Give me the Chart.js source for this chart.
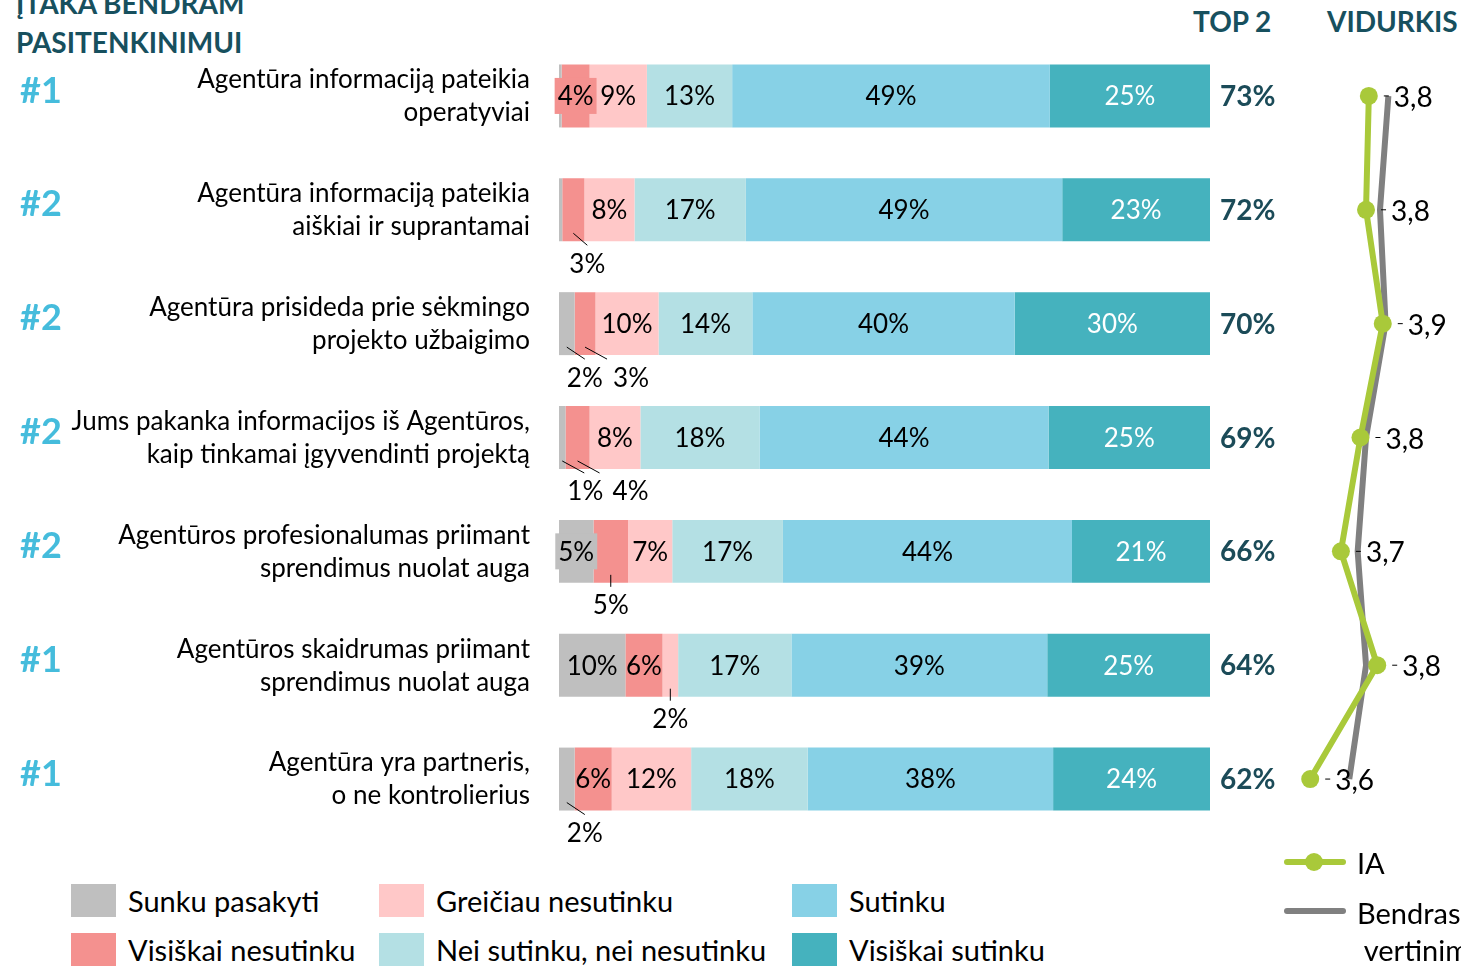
<!DOCTYPE html>
<html>
<head>
<meta charset="utf-8">
<script src="https://cdn.jsdelivr.net/npm/chart.js@4.4.1/dist/chart.umd.min.js"></script>
<style>
  body { margin: 0; width: 1461px; height: 966px; overflow: hidden; background: #fff; position: relative; font-family: Lato, sans-serif; }
  #title { position: absolute; left: 16px; top: -16px; font-weight: bold; font-size: 28px; line-height: 39px; color: #17505e; }
  .head { position: absolute; top: 4px; font-weight: bold; font-size: 28px; color: #17505e; }
  #bars { position: absolute; left: 0; top: 0; }
  #avg { position: absolute; left: 1280px; top: 0; }
  #legend { position: absolute; left: 71px; top: 884px; width: 1100px; }
  .item { position: absolute; height: 33px; display: flex; align-items: center; font-size: 29px; white-space: nowrap; }
  .item span.box { width: 45px; height: 33px; margin-right: 12px; }
  #legend2 { position: absolute; left: 1284px; top: 840px; font-size: 29px; white-space: nowrap; }
</style>
</head>
<body>
<div id="title">ĮTAKA BENDRAM<br>PASITENKINIMUI</div>
<div class="head" style="left:1193px">TOP 2</div>
<div class="head" style="left:1327px">VIDURKIS</div>
<canvas id="bars" width="1280" height="880"></canvas>
<canvas id="avg" width="181" height="880"></canvas>
<div id="legend"></div>
<div id="legend2"></div>
<script>
const categories = [
    ['Agentūra informaciją pateikia', 'operatyviai'],
    ['Agentūra informaciją pateikia', 'aiškiai ir suprantamai'],
    ['Agentūra prisideda prie sėkmingo', 'projekto užbaigimo'],
    ['Jums pakanka informacijos iš Agentūros,', 'kaip tinkamai įgyvendinti projektą'],
    ['Agentūros profesionalumas priimant', 'sprendimus nuolat auga'],
    ['Agentūros skaidrumas priimant', 'sprendimus nuolat auga'],
    ['Agentūra yra partneris,', 'o ne kontrolierius']
];
const ranks = ['#1', '#2', '#2', '#2', '#2', '#1', '#1'];
const seriesNames = ['Sunku pasakyti', 'Visiškai nesutinku', 'Greičiau nesutinku', 'Nei sutinku, nei nesutinku', 'Sutinku', 'Visiškai sutinku'];
const hardToSay      = [0.4, 0.5, 2.4, 1.0, 5.3, 10.2, 2.4];
const fullyDisagree  = [4.3, 3.4, 3.2, 3.7, 5.3, 5.7, 5.7];
const ratherDisagree = [8.8, 7.7, 9.7, 7.8, 6.8, 2.4, 12.2];
const neutral        = [13.1, 17.1, 14.4, 18.3, 17.0, 17.4, 17.9];
const agree          = [48.8, 48.6, 40.3, 44.4, 44.4, 39.3, 37.7];
const fullyAgree     = [24.6, 22.7, 30.0, 24.8, 21.2, 25.0, 24.1];
const top2 = [73, 72, 70, 69, 66, 64, 62];
const avgIA  = [3.81, 3.80, 3.86, 3.78, 3.71, 3.84, 3.60];
const avgAll = [3.88, 3.85, 3.87, 3.80, 3.77, 3.80, 3.74];

const colors = ['#bfbfbf', '#f4918f', '#ffc8c8', '#b4e0e4', '#87d1e6', '#45b2be'];
const textColors = ['#000', '#000', '#000', '#000', '#000', '#fff'];
const series = [hardToSay, fullyDisagree, ratherDisagree, neutral, agree, fullyAgree];

// label placement: key is row-dataset
const hiddenLabels = { '0-0': true, '1-0': true };
const boxedLabels = { '0-1': true, '4-0': true };
const belowLabels = { '1-1': 14, '2-0': 18, '2-1': 46, '3-0': 23, '3-1': 53, '4-1': 0, '5-2': 0, '6-0': 18 };

const labelFont = '26px Lato, sans-serif';

const segmentLabels = {
    id: 'segmentLabels',
    afterDatasetsDraw(chart) {
        const ctx = chart.ctx;
        const yScale = chart.scales.y;
        ctx.save();
        ctx.textAlign = 'center';
        ctx.textBaseline = 'middle';
        chart.data.datasets.forEach((ds, di) => {
            chart.getDatasetMeta(di).data.forEach((bar, i) => {
                const key = i + '-' + di;
                if (hiddenLabels[key]) return;
                const p = bar.getProps(['x', 'y', 'base', 'height'], true);
                const cx = (p.x + p.base) / 2;
                const txt = Math.round(ds.data[i]) + '%';
                ctx.font = labelFont;
                if (belowLabels[key] !== undefined) {
                    const dx = belowLabels[key];
                    const bottom = p.y + p.height / 2;
                    ctx.strokeStyle = '#000';
                    ctx.lineWidth = 1;
                    ctx.beginPath();
                    ctx.moveTo(cx, bottom - 8);
                    ctx.lineTo(cx + Math.min(dx, 22), bottom + 4);
                    ctx.stroke();
                    ctx.fillStyle = '#000';
                    ctx.fillText(txt, cx + dx, bottom + 23);
                    return;
                }
                if (boxedLabels[key]) {
                    const w = ctx.measureText(txt).width + 6;
                    ctx.fillStyle = colors[di];
                    ctx.fillRect(cx - w / 2, p.y - 18, w, 36);
                }
                ctx.fillStyle = textColors[di];
                ctx.fillText(txt, cx, p.y + 1);
            });
        });

        // category names, ranks and TOP 2 values
        categories.forEach((c, i) => {
            const y = yScale.getPixelForValue(i);
            ctx.textAlign = 'right';
            ctx.font = '26px Lato, sans-serif';
            ctx.fillStyle = '#000';
            ctx.fillText(c[0], 530, y - 16);
            ctx.fillText(c[1], 530, y + 17);
            ctx.textAlign = 'left';
            ctx.font = 'bold 36px Lato, sans-serif';
            ctx.fillStyle = '#45bcdc';
            ctx.fillText(ranks[i], 20, y - 5);
            ctx.font = 'bold 28px Lato, sans-serif';
            ctx.fillStyle = '#1b4b58';
            ctx.fillText(top2[i] + '%', chart.chartArea.right + 10, y + 1);
        });
        ctx.restore();
    }
};

new Chart(document.getElementById('bars'), {
    type: 'bar',
    data: {
        labels: categories.map(c => c.join(' ')),
        datasets: series.map((d, i) => ({
            label: seriesNames[i],
            data: d,
            backgroundColor: colors[i],
            borderWidth: 0,
            barPercentage: 0.553,
            categoryPercentage: 1
        }))
    },
    options: {
        indexAxis: 'y',
        responsive: false,
        animation: false,
        layout: { padding: { left: 559, right: 70, top: 39, bottom: 44 } },
        plugins: { legend: { display: false }, tooltip: { enabled: false } },
        scales: {
            x: { stacked: true, min: 0, max: 100, display: false },
            y: { stacked: true, display: false }
        }
    },
    plugins: [segmentLabels]
});

const avgLabels = {
    id: 'avgLabels',
    afterDatasetsDraw(chart) {
        const ctx = chart.ctx;
        ctx.save();
        ctx.font = '28px Lato, sans-serif';
        ctx.textBaseline = 'middle';
        ctx.textAlign = 'left';
        ctx.fillStyle = '#000';
        ctx.strokeStyle = '#000';
        ctx.lineWidth = 1;
        chart.getDatasetMeta(0).data.forEach((pt, i) => {
            ctx.beginPath();
            ctx.moveTo(pt.x + 15, pt.y);
            ctx.lineTo(pt.x + 20, pt.y);
            ctx.stroke();
            ctx.fillText(avgIA[i].toFixed(1).replace('.', ','), pt.x + 25, pt.y + 2);
        });
        ctx.restore();
    }
};

new Chart(document.getElementById('avg'), {
    type: 'line',
    data: {
        labels: categories.map(c => c.join(' ')),
        datasets: [
            {
                label: 'IA',
                data: avgIA,
                borderColor: '#a9c93a',
                backgroundColor: '#a9c93a',
                borderWidth: 6,
                pointRadius: 9,
                pointBackgroundColor: '#a9c93a',
                pointBorderWidth: 0,
                clip: false
            },
            {
                label: 'Bendras vertinimas',
                data: avgAll,
                borderColor: '#808080',
                borderWidth: 6,
                pointRadius: 0,
                clip: false
            }
        ]
    },
    options: {
        indexAxis: 'y',
        responsive: false,
        animation: false,
        layout: { padding: { left: 0, right: 0, top: 39, bottom: 44 } },
        plugins: { legend: { display: false }, tooltip: { enabled: false } },
        scales: {
            x: { type: 'linear', min: 3.524, max: 4.108, display: false },
            y: { type: 'category', offset: true, display: false }
        }
    },
    plugins: [avgLabels]
});

// bottom legend
const legend = document.getElementById('legend');
const legendPos = [[0, 0], [0, 49], [308, 0], [308, 49], [721, 0], [721, 49]];
seriesNames.forEach((name, i) => {
    const el = document.createElement('div');
    el.className = 'item';
    el.style.left = legendPos[i][0] + 'px';
    el.style.top = legendPos[i][1] + 'px';
    el.innerHTML = '<span class="box" style="background:' + colors[i] + '"></span>' + name;
    legend.appendChild(el);
});

document.getElementById('legend2').innerHTML =
    '<div style="position:absolute;left:0;top:0;width:62px;height:44px">' +
    '<div style="position:absolute;left:0;top:19px;width:62px;height:6px;border-radius:3px;background:#a9c93a"></div>' +
    '<div style="position:absolute;left:21px;top:13px;width:18px;height:18px;border-radius:50%;background:#a9c93a"></div></div>' +
    '<div style="position:absolute;left:73px;top:5px">IA</div>' +
    '<div style="position:absolute;left:0;top:68px;width:62px;height:6px;border-radius:3px;background:#808080"></div>' +
    '<div style="position:absolute;left:73px;top:54px;line-height:37px">Bendras<br>&nbsp;vertinimas</div>';
</script>
</body>
</html>
